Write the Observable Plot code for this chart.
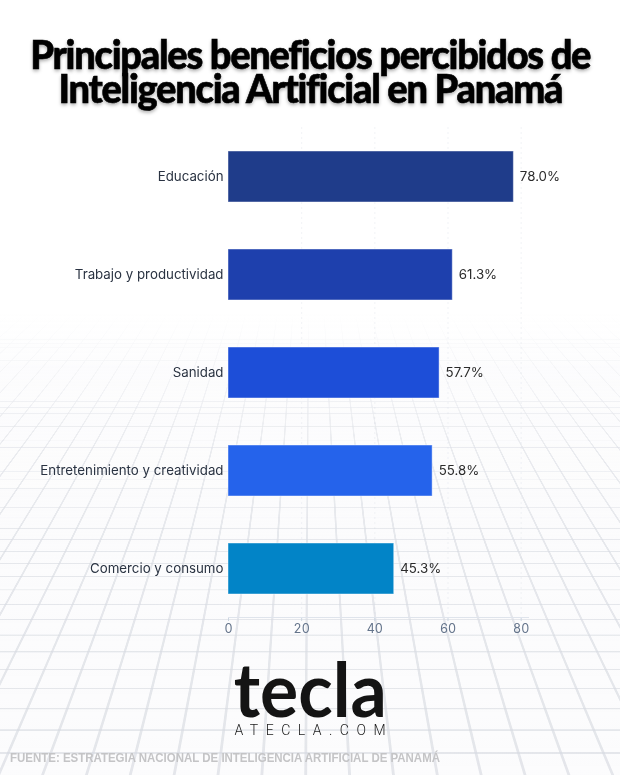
<!DOCTYPE html>
<html>
<head>
<meta charset="utf-8">
<script src="https://cdn.jsdelivr.net/npm/d3@7"></script>
<script src="https://cdn.jsdelivr.net/npm/@observablehq/plot@0.6"></script>
<style>
  html, body { margin: 0; padding: 0; background: #fcfcfd; }
  #page { position: relative; width: 620px; height: 775px; overflow: hidden; background: #fcfcfd; }
  #bg { position: absolute; left: -900px; width: 2420px; height: 3200px; top: -2390px;
        background-image:
          linear-gradient(to right, rgba(208,212,220,0.6) 3px, transparent 3px),
          linear-gradient(to bottom, rgba(208,212,220,0.6) 3px, transparent 3px);
        background-size: 46px 46px;
        background-position: 8px 14px;
        transform-origin: 50% 100%;
        transform: perspective(1000px) rotateX(53deg); }
  #fade { position: absolute; left: 0; top: 0; width: 620px; height: 775px;
          background: linear-gradient(to bottom, #fff 0px, #fff 310px, rgba(252,252,253,0.75) 365px, rgba(252,252,253,0.3) 450px, rgba(252,252,253,0.15) 560px, rgba(252,252,253,0.1) 775px); }
  #title { position: absolute; left: -300px; top: 37px; width: 1220px; text-align: center;
           font-family: Lato, sans-serif; font-weight: 900; color: #000; line-height: 34px; font-size: 39px;
           letter-spacing: -1.3px;
           -webkit-text-stroke: 0.6px #000;
           text-shadow: 0 2px 4px rgba(0,0,0,0.35); }
  #title span { display: inline-block; white-space: nowrap; transform-origin: 50% 50%; }
  #chart { position: absolute; left: 0; top: 100px; }
  #logo { position: absolute; left: 0; top: 658px; width: 620px; height: 60px; text-align: center; line-height: 60px; }
  #tecla { display: inline-block; font-family: Lato, sans-serif; font-weight: 700; font-size: 75px;
           color: #141414; line-height: 60px; white-space: nowrap; transform-origin: 50% 50%; }
  #atecla { position: absolute; top: 723px; left: 0; width: 620px; text-align: center;
            font-family: Roboto, sans-serif; font-weight: 300; font-size: 14px; color: #1a1a1a; line-height: 1; }
  #atecla span { display: inline-block; white-space: nowrap; }
  #footer { position: absolute; left: 10px; top: 752px; font-family: "Liberation Sans", Arial, sans-serif;
            font-weight: 700; font-size: 12px; color: #c4c4c6; white-space: nowrap; line-height: 1; }
</style>
</head>
<body>
<div id="page">
  <div id="bg"></div>
  <div id="fade"></div>
  <div id="title"><span id="t1">Principales beneficios percibidos de</span><br><span id="t2">Inteligencia Artificial en Panamá</span></div>
  <div id="chart"></div>
  <div id="logo"><span id="tecla">tecla</span></div>
  <div id="atecla"><span id="ac">ATECLA.COM</span></div>
  <div id="footer"><span id="ft">FUENTE: ESTRATEGIA NACIONAL DE INTELIGENCIA ARTIFICIAL DE PANAMÁ</span></div>
</div>
<script>
const categories = ["Educación", "Trabajo y productividad", "Sanidad", "Entretenimiento y creatividad", "Comercio y consumo"];
const values = [78.0, 61.3, 57.7, 55.8, 45.3];
const barColors = ["#1f3c8a", "#1e40ad", "#1d4ed8", "#2563eb", "#0284c7"];
const xTicks = [0, 20, 40, 60, 80];

const data = categories.map((c, i) => ({cat: c, value: values[i]}));

const chart = Plot.plot({
  width: 620,
  height: 560,
  marginLeft: 228,
  marginRight: 92,
  marginTop: 27,
  marginBottom: 43,
  style: {background: "transparent", fontFamily: "Inter, sans-serif", fontSize: "13px", overflow: "visible"},
  x: {domain: [0, 82], ticks: xTicks, label: null},
  y: {domain: categories, paddingInner: 0.48, paddingOuter: 0.232, label: null},
  color: {domain: categories, range: barColors},
  marks: [
    Plot.gridX(xTicks.slice(1), {stroke: "#cbd5e1", strokeOpacity: 0.25, strokeDasharray: "2,3"}),
    Plot.barX(data, {x: "value", y: "cat", fill: "cat", stroke: "#ffffff", strokeOpacity: 0.45, strokeWidth: 1}),
    Plot.text(data, {x: "value", y: "cat", text: d => d.value.toFixed(1) + "%", textAnchor: "start", dx: 6, fill: "#2b2b2b", fontSize: 13.3}),
    Plot.axisY({tickSize: 0, tickPadding: 5, fill: "#2a3342", fontSize: 13.3, label: null}),
    Plot.axisX({ticks: xTicks, tickSize: 4, tickPadding: 3, stroke: "#cbd5e1", fill: "#64748b", fontSize: 12.5, label: null}),
    Plot.frame({anchor: "bottom", stroke: "#dfe4ec"})
  ]
});
document.getElementById("chart").appendChild(chart);

function fit() {
  const t1 = document.getElementById("t1"), t2 = document.getElementById("t2");
  t1.style.transform = "none";
  t2.style.transform = "none";
  const w = t1.getBoundingClientRect().width;
  const sx = 560 / w;
  t1.style.transform = `scaleX(${sx})`;
  t2.style.transform = `scaleX(${sx})`;
  const tc = document.getElementById("tecla");
  tc.style.transform = "none";
  const tw = tc.getBoundingClientRect().width;
  tc.style.transform = `scaleX(${153 / tw})`;
  const ac = document.getElementById("ac");
  ac.style.letterSpacing = "0px";
  ac.style.marginRight = "0px";
  const aw = ac.getBoundingClientRect().width;
  const ls = (151 - aw) / 9;
  ac.style.letterSpacing = ls + "px";
  ac.style.marginRight = (-ls) + "px";
  const ft = document.getElementById("ft");
  ft.style.display = "inline-block";
  ft.style.transform = "none";
  ft.style.transformOrigin = "0 0";
  const fw = ft.getBoundingClientRect().width;
  ft.style.transform = `scaleX(${430 / fw})`;
}
fit();
if (document.fonts && document.fonts.ready) document.fonts.ready.then(fit);
</script>
</body>
</html>
